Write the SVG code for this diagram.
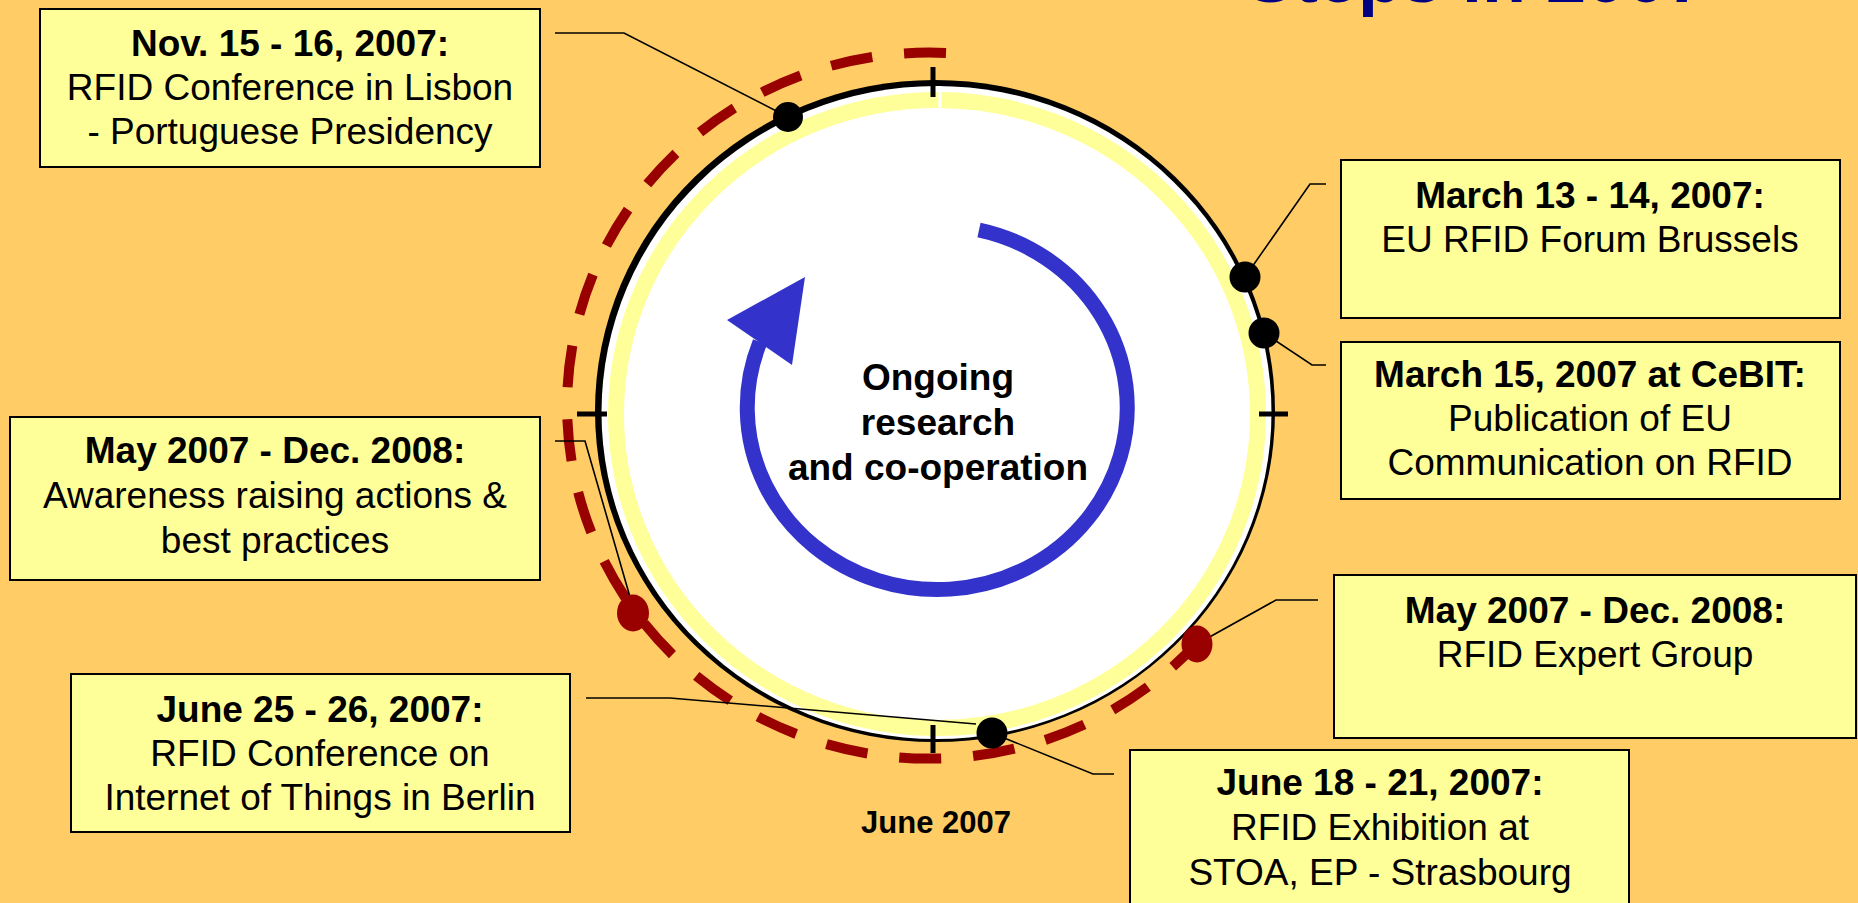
<svg xmlns="http://www.w3.org/2000/svg" width="1858" height="903" viewBox="0 0 1858 903">
<style>
.bg{fill:#FFCC66}
.box{fill:#FFFF99;stroke:#000;stroke-width:2}
.t{font-family:"Liberation Sans",Arial,Helvetica,sans-serif;font-size:37px;text-anchor:middle;fill:#000}
.b{font-weight:bold}
.conn{fill:none;stroke:#000;stroke-width:1.6}
.tick{stroke:#000;stroke-width:5}
.dot{fill:#000}
.rdot{fill:#990000}
</style>
<rect class="bg" x="0" y="0" width="1858" height="903"/>
<text x="1246" y="2" font-family="Liberation Sans, Arial, sans-serif" font-weight="bold" font-size="72" fill="#000080">Steps in 2007</text>

<g id="cycle">
  <ellipse cx="935" cy="411" rx="340" ry="331" fill="#000"/>
  <ellipse cx="936.5" cy="412.5" rx="335" ry="326.5" fill="#fff"/>
  <ellipse cx="937" cy="414" rx="321" ry="314" fill="none" stroke="#FFFF99" stroke-width="16"/>
  <line x1="940" y1="86" x2="940" y2="110" stroke="#fff" stroke-width="3"/>
  <line class="tick" x1="933" y1="67" x2="933" y2="97"/>
  <line class="tick" x1="933" y1="725" x2="933" y2="753"/>
  <line class="tick" x1="577" y1="414" x2="607" y2="414"/>
  <line class="tick" x1="1259" y1="414" x2="1288" y2="414"/>
</g>

<g id="ongoing">
  <path d="M 979 230 A 190 182 0 1 1 760 342" fill="none" stroke="#3333CC" stroke-width="15"/>
  <polygon points="805,277 727,320 792,365" fill="#3333CC"/>
  <text class="t b" x="938" y="390">Ongoing</text>
  <text class="t b" x="938" y="435">research</text>
  <text class="t b" x="938" y="480">and co-operation</text>
</g>

<g id="period-arc">
  <path d="M 946 53 A 362 353 0 1 0 1197 643" fill="none" stroke="#990000" stroke-width="10" stroke-dasharray="42 32"/>
</g>

<text id="june-label" class="t b" x="936" y="833" style="font-size:31px">June 2007</text>

<g id="connectors">
  <polyline class="conn" points="555,33 624,33 788,117"/>
  <polyline class="conn" points="1326,184 1310,184 1245,277"/>
  <polyline class="conn" points="1264,333 1312,365 1326,365"/>
  <polyline class="conn" points="1197,644 1276,600 1318,600"/>
  <polyline class="conn" points="992,733 1093,774 1114,774"/>
  <polyline class="conn" points="586,698 670,698 976,724"/>
  <polyline class="conn" points="555,441 585,441 630,597"/>
</g>

<g id="markers">
  <circle class="dot" cx="788" cy="117" r="15"/>
  <circle class="dot" cx="1245" cy="277" r="15.5"/>
  <circle class="dot" cx="1264" cy="333" r="15.5"/>
  <circle class="dot" cx="992" cy="733" r="15.5"/>
  <ellipse class="rdot" cx="1197" cy="644" rx="15.5" ry="18.5"/>
  <ellipse class="rdot" cx="633" cy="613" rx="16" ry="18.5"/>
</g>

<g id="box-nov">
  <rect class="box" x="40" y="9" width="500" height="158"/>
  <text class="t b" x="290" y="56">Nov. 15 - 16, 2007:</text>
  <text class="t" x="290" y="100">RFID Conference in Lisbon</text>
  <text class="t" x="290" y="144">- Portuguese Presidency</text>
</g>

<g id="box-march13">
  <rect class="box" x="1341" y="160" width="499" height="158"/>
  <text class="t b" x="1590" y="208">March 13 - 14, 2007:</text>
  <text class="t" x="1590" y="252">EU RFID Forum Brussels</text>
</g>

<g id="box-march15">
  <rect class="box" x="1341" y="342" width="499" height="157"/>
  <text class="t b" x="1590" y="387">March 15, 2007 at CeBIT:</text>
  <text class="t" x="1590" y="431">Publication of EU</text>
  <text class="t" x="1590" y="475">Communication on RFID</text>
</g>

<g id="box-awareness">
  <rect class="box" x="10" y="417" width="530" height="163"/>
  <text class="t b" x="275" y="463">May 2007 - Dec. 2008:</text>
  <text class="t" x="275" y="508">Awareness raising actions &amp;</text>
  <text class="t" x="275" y="553">best practices</text>
</g>

<g id="box-june25">
  <rect class="box" x="71" y="674" width="499" height="158"/>
  <text class="t b" x="320" y="722">June 25 - 26, 2007:</text>
  <text class="t" x="320" y="766">RFID Conference on</text>
  <text class="t" x="320" y="810">Internet of Things in Berlin</text>
</g>

<g id="box-expert">
  <rect class="box" x="1334" y="575" width="522" height="163"/>
  <text class="t b" x="1595" y="623">May 2007 - Dec. 2008:</text>
  <text class="t" x="1595" y="667">RFID Expert Group</text>
</g>

<g id="box-june18">
  <rect class="box" x="1130" y="750" width="499" height="200"/>
  <text class="t b" x="1380" y="795">June 18 - 21, 2007:</text>
  <text class="t" x="1380" y="840">RFID Exhibition at</text>
  <text class="t" x="1380" y="885">STOA, EP - Strasbourg</text>
</g>
</svg>
